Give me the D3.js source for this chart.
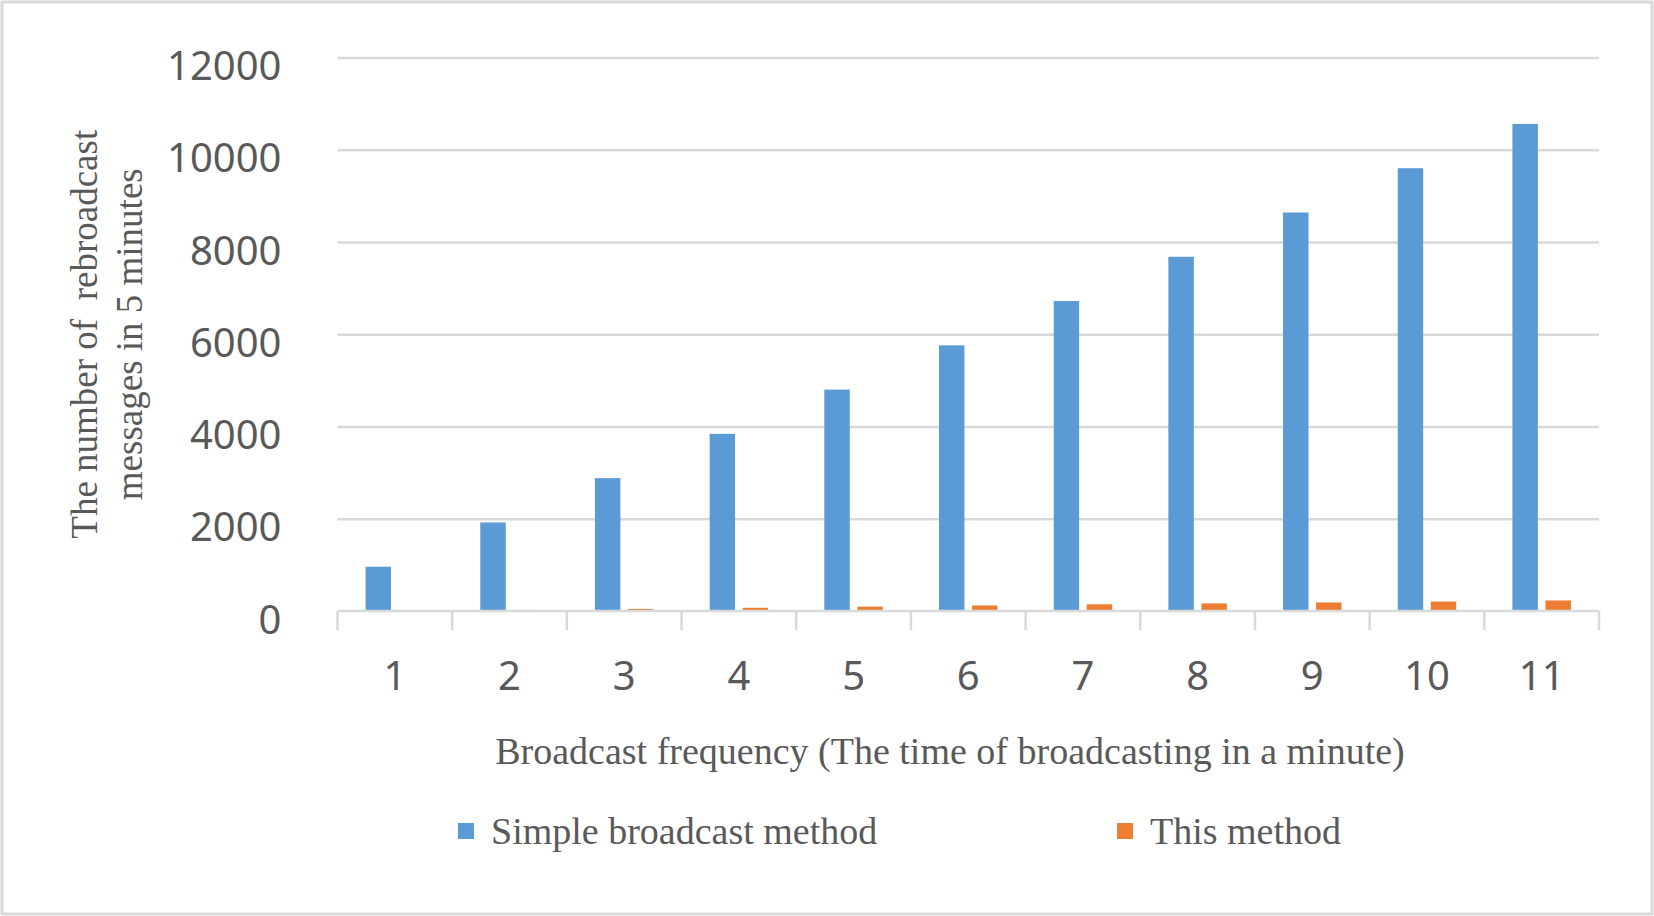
<!DOCTYPE html>
<html>
<head>
<meta charset="utf-8">
<script src="https://cdn.jsdelivr.net/npm/d3@7"></script>
<style>
  html, body { margin: 0; padding: 0; background: #fff; }
</style>
</head>
<body>
<div id="chart"></div>
<script>
// Data
const categories = ["1", "2", "3", "4", "5", "6", "7", "8", "9", "10", "11"];
const seriesNames = ["Simple broadcast method", "This method"];
const simpleValues = [960, 1920, 2880, 3840, 4800, 5760, 6720, 7680, 8640, 9600, 10560];
const thisValues = [0, 22, 45, 70, 95, 120, 145, 165, 185, 205, 228];
const yTicks = [0, 2000, 4000, 6000, 8000, 10000, 12000];
const colors = ["#5B9BD5", "#ED7D31"];

const data = categories.map((c, i) => ({
  cat: c,
  values: [simpleValues[i], thisValues[i]]
}));

// Chart dimensions
const width = 1654;
const height = 916;
const margin = { top: 57.5, right: 55, bottom: 305, left: 337.5 };
const innerW = width - margin.left - margin.right;
const innerH = height - margin.top - margin.bottom;

const svg = d3.select("#chart").append("svg")
  .attr("width", width)
  .attr("height", height);

// outer frame
svg.append("rect")
  .attr("x", 2).attr("y", 2)
  .attr("width", width - 4).attr("height", height - 4)
  .attr("fill", "#fff")
  .attr("stroke", "#d9d9d9")
  .attr("stroke-width", 3);

const g = svg.append("g")
  .attr("transform", `translate(${margin.left},${margin.top})`);

const x = d3.scaleBand()
  .domain(categories)
  .range([0, innerW])
  .padding(0);

const x1 = d3.scaleBand()
  .domain([0, 1])
  .range([x.bandwidth() * 0.245, x.bandwidth() * 0.755])
  .paddingInner(0.23);

const y = d3.scaleLinear()
  .domain([0, 12000])
  .range([innerH, 0]);

// gridlines + y labels
const yAxis = g.append("g")
  .call(d3.axisLeft(y).tickValues(yTicks).tickFormat(d3.format("d")).tickSize(-innerW).tickPadding(56));
yAxis.select(".domain").remove();
yAxis.selectAll(".tick line")
  .attr("stroke", "#d9d9d9")
  .attr("stroke-width", 2.5)
  .filter(d => d === 0).remove();
yAxis.selectAll(".tick text")
  .attr("dy", "0.55em")
  .attr("fill", "#595959")
  .style("font-family", "'Noto Sans', sans-serif")
  .style("font-size", "40px");

// bars
const groups = g.selectAll(".cat")
  .data(data)
  .enter()
  .append("g")
  .attr("class", "cat")
  .attr("transform", d => `translate(${x(d.cat)},0)`);

groups.selectAll("rect")
  .data(d => d.values.map((v, i) => ({ i, v })))
  .enter()
  .append("rect")
  .attr("x", d => x1(d.i))
  .attr("width", x1.bandwidth())
  .attr("y", d => y(d.v))
  .attr("height", d => innerH - y(d.v))
  .attr("fill", d => colors[d.i]);

// x axis line and boundary ticks
g.append("line")
  .attr("x1", 0).attr("x2", innerW)
  .attr("y1", innerH).attr("y2", innerH)
  .attr("stroke", "#d9d9d9")
  .attr("stroke-width", 2.5);

const bounds = categories.map(c => x(c)).concat([innerW]);
g.selectAll(".bound")
  .data(bounds)
  .enter()
  .append("line")
  .attr("class", "bound")
  .attr("x1", d => d).attr("x2", d => d)
  .attr("y1", innerH).attr("y2", innerH + 19)
  .attr("stroke", "#d9d9d9")
  .attr("stroke-width", 2.5);

const xAxis = g.append("g")
  .attr("transform", `translate(0,${innerH})`)
  .call(d3.axisBottom(x).tickSize(0).tickPadding(51));
xAxis.select(".domain").remove();
xAxis.selectAll(".tick text")
  .attr("fill", "#595959")
  .style("font-family", "'Noto Sans', sans-serif")
  .style("font-size", "40px");

// Axis titles
svg.append("text")
  .attr("x", 950)
  .attr("y", 764)
  .attr("text-anchor", "middle")
  .attr("fill", "#595959")
  .style("font-family", "'Liberation Serif', 'Times New Roman', serif")
  .style("font-size", "38px")
  .text("Broadcast frequency (The time of broadcasting in a minute)");

const yTitle = svg.append("text")
  .attr("transform", `translate(97,${margin.top + innerH / 2}) rotate(-90)`)
  .attr("text-anchor", "middle")
  .attr("fill", "#595959")
  .style("font-family", "'Liberation Serif', 'Times New Roman', serif")
  .style("font-size", "37px")
  .style("white-space", "pre");
yTitle.append("tspan").attr("x", 0).attr("dy", 0).text("The number of  rebroadcast");
yTitle.append("tspan").attr("x", 0).attr("dy", 45).text("messages in 5 minutes");

// Legend
const legendX = [458, 1117];
const legend = svg.selectAll(".legend")
  .data(seriesNames)
  .enter()
  .append("g")
  .attr("class", "legend")
  .attr("transform", (d, i) => `translate(${legendX[i]},823)`);

legend.append("rect")
  .attr("width", 16)
  .attr("height", 16)
  .attr("fill", (d, i) => colors[i]);

legend.append("text")
  .attr("x", 33)
  .attr("y", 21)
  .attr("fill", "#595959")
  .style("font-family", "'Liberation Serif', 'Times New Roman', serif")
  .style("font-size", "38px")
  .text(d => d);
</script>
</body>
</html>
